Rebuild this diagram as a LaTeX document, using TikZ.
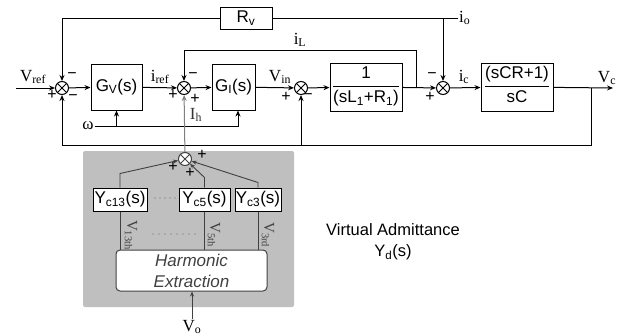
\documentclass[tikz,border=0pt]{standalone}
\usepackage{fontspec}
\setmainfont{Liberation Serif}
\newfontfamily\sansf{Liberation Sans}
\usetikzlibrary{arrows.meta,positioning,calc}
\setlength{\arrayrulewidth}{1pt}
\newcommand{\blkfrac}[2]{\begin{tabular}{@{}c@{}}#1\\[1pt]\hline\rule{0pt}{16pt}#2\end{tabular}}
\tikzset{
  blk/.style={draw, line width=1pt, fill=white, inner sep=0pt, font=\sansf\fontsize{17}{19}\selectfont},
  sumj/.style={draw, circle, line width=1pt, fill=white, minimum size=13pt, inner sep=0pt,
    path picture={\draw[line width=0.9pt] (path picture bounding box.north west) -- (path picture bounding box.south east)
      (path picture bounding box.south west) -- (path picture bounding box.north east);}},
  sig/.style={inner sep=1pt, font=\fontsize{17}{19}\selectfont},
  sgn/.style={inner sep=0pt, font=\sansf\fontsize{16}{16}\selectfont},
  wire/.style={line width=1pt, -{Stealth[length=6pt,width=5pt]}},
  pwire/.style={line width=0.9pt, black!75},
}
\begin{document}
\begin{tikzpicture}[x=1pt,y=-1pt]
\useasboundingbox (0,0) rectangle (636,335);
% Virtual admittance panel
\fill[gray!50, rounded corners=2pt] (83,151) rectangle (294,307);
% Summing junctions
\node[sumj] (sA) at (62,88) {};
\node[sumj] (sB) at (184,88) {};
\node[sumj] (sC) at (301,88) {};
\node[sumj] (sD) at (443,88) {};
\node[sumj, draw=black!75] (sH) at (185,159) {};
% Blocks
\node[blk, minimum width=51pt, minimum height=46pt] (gv) at (116.5,87) {G\textsubscript{V}(s)};
\node[blk, minimum width=43pt, minimum height=46pt] (gi) at (233.5,87) {G\textsubscript{I}(s)};
\node[blk, minimum width=72pt, minimum height=48pt] (pl) at (366,87) {\blkfrac{1}{(sL\textsubscript{1}+R\textsubscript{1})}};
\node[blk, minimum width=72pt, minimum height=48pt] (cb) at (517,87) {\blkfrac{(sCR+1)}{sC}};
\node[blk, minimum width=52pt, minimum height=22pt] (rv) at (246,18) {R\textsubscript{v}};
% Forward path
\coordinate (in) at (16,88);
\coordinate (out) at (613,88);
\draw[wire] (in) -- (sA);
\draw[wire] (sA) -- (gv);
\draw[wire] (gv) -- (sB);
\draw[wire] (sB) -- (gi);
\draw[wire] (gi) -- (sC);
\draw[wire] (sC) -- (pl);
\draw[wire] (pl) -- (sD);
\draw[wire] (sD) -- (cb);
\draw[wire] (cb) -- (out);
% Inductor current loop
\coordinate (iLt) at (416,88);
\draw[wire] (iLt) -- ++(0,-38) -| (sB);
% Load current and virtual resistance
\coordinate (io) at (458,18);
\draw[line width=1pt] (io) -- (rv);
\draw[wire] (rv) -| (sA);
\draw[wire] (sD |- io) -- (sD);
% Output voltage feedback
\coordinate (vcb) at (591,88);
\coordinate (fb) at (591,145);
\draw[wire] (vcb) -- (fb) -| (sA);
\draw[wire] (sC |- fb) -- (sC);
% Frequency input
\node[sig] (om) at (88,126) {ω};
\draw[wire] (om) -| ([xshift=4.5pt]gi.south);
\draw[wire] (gv.south |- om) -- (gv);
% Harmonic compensation
\draw[wire, gray] (sH) -- (sB);
\node[blk] (y13) at (120,199.5) [minimum width=54pt, minimum height=23pt] {Y\textsubscript{c13}(s)};
\node[blk] (y5) at (204.5,199.5) [minimum width=51pt, minimum height=23pt] {Y\textsubscript{c5}(s)};
\node[blk] (y3) at (258,199.5) [minimum width=46pt, minimum height=23pt] {Y\textsubscript{c3}(s)};
\node[blk, draw=black!75, rounded corners=4pt, align=center, minimum width=151pt, minimum height=41pt,
  font=\sansf\itshape\fontsize{17}{21}\selectfont, text=black!75] (he) at (191.5,270.5) {Harmonic\\Extraction};
\foreach \y in {y13,y5,y3} {
  \draw[pwire] (\y.south) -- (\y.south |- he.north);
}
\draw[pwire, -{Stealth[length=5pt,width=4pt]}] (y13.north) -- ++(0,-14) -- (sH);
\draw[pwire, -{Stealth[length=5pt,width=4pt]}] (y5.north) -- ++(0,-10) -- (sH);
\draw[pwire, -{Stealth[length=5pt,width=4pt]}] (y3.north) -- ++(0,-5) -- (sH);
\node[sig] (vo) at (192,327) {V\textsubscript{o}};
\draw[pwire, -{Stealth[length=5pt,width=4pt]}] (vo) -- (vo |- he.south);
% Harmonic voltages
\foreach \x/\n in {131/13th,214/5th,268/3rd} {
  \node[rotate=-90, inner sep=0pt, text=black!75, font=\fontsize{15}{17}\selectfont] (v\n) at (\x,235) {V\textsubscript{\n}};
}
\foreach \x in {155,160,...,175} \fill[black!60] (\x,198) circle (0.6);
\foreach \x in {153,159,...,195} \fill[black!60] (\x,234) circle (0.6);
% Signal labels
\node[sig] (lvref) at (33,77) {V\textsubscript{ref}};
\node[sig] (liref) at (160,77) {i\textsubscript{ref}};
\node[sig] (lvin) at (280,77) {V\textsubscript{in}};
\node[sig] (lic) at (464,77) {i\textsubscript{c}};
\node[sig] (lvc) at (607,78) {V\textsubscript{c}};
\node[sig] (lil) at (300,40) {i\textsubscript{L}};
\node[sig, anchor=west] (lio) at (io) {i\textsubscript{o}};
\node[sig, text=black!80] (lih) at (196,115) {I\textsubscript{h}};
% Signs
\foreach \x/\y/\s in {72/76/−,52/95/+,73/98/−,193/76/−,173/95/+,195/99/+,286/97/+,308/97/−,432/76/−,430/97/+,202/155/+,173/167/+,190/173/+} {
  \node[sgn] (sg-\x-\y) at (\x,\y) {\s};
}
\node[align=center, font=\sansf\fontsize{16.5}{21}\selectfont] (va) at (393,242) {Virtual Admittance\\Y\textsubscript{d}(s)};
\end{tikzpicture}
\end{document}
